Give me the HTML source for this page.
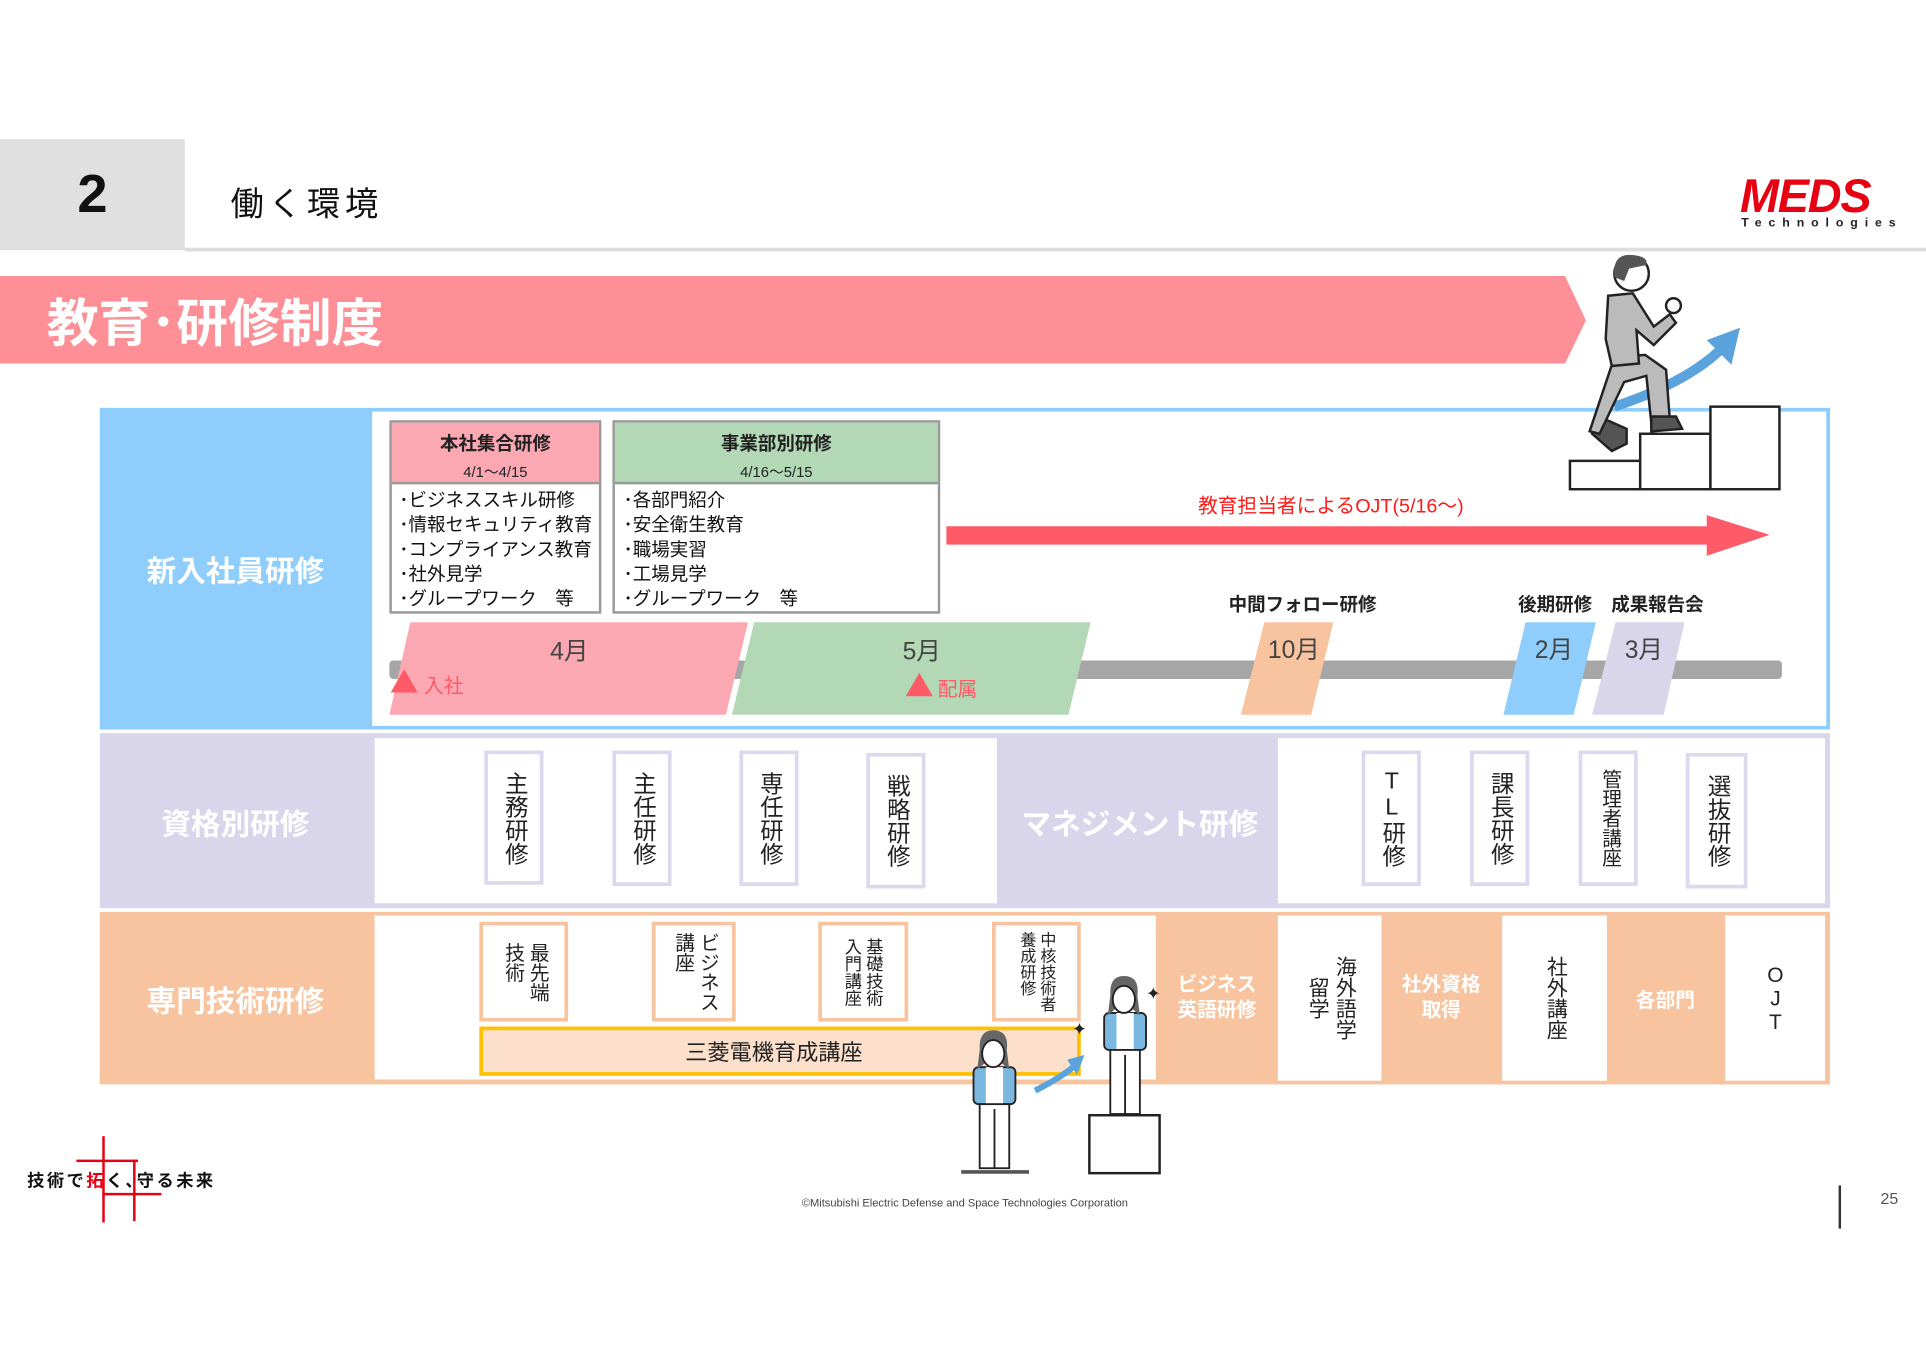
<!DOCTYPE html>
<html><head><meta charset="utf-8"><style>
html,body{margin:0;padding:0;background:#fff;}
body{width:1926px;height:1365px;overflow:hidden;position:relative;}
#s{position:absolute;left:0;top:0;width:1563px;height:1108px;transform:scale(1.2323);transform-origin:0 0;font-family:"Liberation Sans","Noto Sans CJK JP",sans-serif;}
.a{position:absolute;}
.c{position:absolute;display:flex;align-items:center;justify-content:center;text-align:center;}
.v{writing-mode:vertical-rl;text-orientation:upright;}
.card{position:absolute;background:#fff;box-sizing:border-box;display:flex;align-items:center;justify-content:center;color:#222;font-size:19px;line-height:1.15;}
.lav{border:3px solid #dcd9ef;}
.org{border:3px solid #f8c49f;font-size:16px;line-height:1.25;}
.lbl{color:#fff;font-weight:bold;font-size:24px;}
ul{list-style:none;margin:0;padding:0;}
</style></head><body><div id="s">
<!-- header -->
<div class="c" style="left:0;top:113px;width:150px;height:90px;background:#e0e0e0;font-size:44px;font-weight:bold;color:#111;">2</div>
<div class="a" style="left:187px;top:144px;font-size:27px;color:#111;letter-spacing:4px;">働く環境</div>
<div class="a" style="left:150px;top:201px;width:1413px;height:3px;background:#ddd;"></div>
<div class="a" style="left:1412px;top:140px;font-size:38px;font-weight:bold;font-style:italic;color:#e60012;letter-spacing:-1px;line-height:40px;">MEDS</div>
<div class="a" style="left:1413px;top:176px;font-size:10px;color:#222;letter-spacing:5.6px;font-weight:bold;">Technologies</div>
<!-- banner -->
<svg class="a" style="left:0;top:224px" width="1300" height="72"><polygon points="0,0 1270,0 1287,36 1270,71 0,71" fill="#ff8f97"/></svg>
<div class="a" style="left:38px;top:236px;font-size:42px;font-weight:bold;color:#fff;line-height:54px;">教育･研修制度</div>

<!-- row1 -->
<div class="a" style="left:81px;top:331px;width:1404px;height:261px;background:#8ecdfc;"></div>
<div class="a" style="left:302px;top:334px;width:1180px;height:255px;background:#fff;"></div>
<div class="c lbl" style="left:81px;top:331px;width:220px;height:261px;">新入社員研修</div>

<div class="a" style="left:316px;top:341px;width:172px;height:157px;border:2px solid #999;box-sizing:border-box;"></div>
<div class="a" style="left:318px;top:343px;width:168px;height:48px;background:#fba8b2;border-bottom:2px solid #999;"></div>
<div class="a" style="left:316px;top:349px;width:172px;text-align:center;font-size:15px;font-weight:bold;color:#222;">本社集合研修</div>
<div class="a" style="left:316px;top:374px;width:172px;text-align:center;font-size:12px;color:#222;">4/1～4/15</div>
<ul class="a" style="left:324px;top:397px;font-size:15px;line-height:20px;color:#111;"><li>･ビジネススキル研修</li><li>･情報セキュリティ教育</li><li>･コンプライアンス教育</li><li>･社外見学</li><li>･グループワーク　等</li></ul>

<div class="a" style="left:497px;top:341px;width:266px;height:157px;border:2px solid #999;box-sizing:border-box;"></div>
<div class="a" style="left:499px;top:343px;width:262px;height:48px;background:#b2d8b5;border-bottom:2px solid #999;"></div>
<div class="a" style="left:497px;top:349px;width:266px;text-align:center;font-size:15px;font-weight:bold;color:#222;">事業部別研修</div>
<div class="a" style="left:497px;top:374px;width:266px;text-align:center;font-size:12px;color:#222;">4/16～5/15</div>
<ul class="a" style="left:506px;top:397px;font-size:15px;line-height:20px;color:#111;"><li>･各部門紹介</li><li>･安全衛生教育</li><li>･職場実習</li><li>･工場見学</li><li>･グループワーク　等</li></ul>

<div class="a" style="left:940px;top:397px;width:280px;text-align:center;font-size:16px;color:#ff1a1a;">教育担当者によるOJT(5/16～)</div>
<svg class="a" style="left:0;top:0" width="1563" height="1108">
<polygon points="768,427 1385,427 1385,418 1436,434 1385,451 1385,442 768,442" fill="#ff5a67"/>
<rect x="316" y="536" width="1130" height="15" rx="3" fill="#a6a6a6"/>
<polygon points="333,505 607,505 589,580 316,580" fill="#fba8b2"/>
<polygon points="612,505 885,505 867,580 594,580" fill="#b2d8b5"/>
<polygon points="1026,505 1082,505 1064,580 1007,580" fill="#f8c49f"/>
<polygon points="1238,505 1295,505 1277,580 1220,580" fill="#8ecdfc"/>
<polygon points="1311,505 1367,505 1350,580 1292,580" fill="#d9d6ec"/>
<polygon points="317,562 328,543 339,562" fill="#ff5a67"/>
<polygon points="735,565 746,546 757,565" fill="#ff5a67"/>
<!-- stairs -->
<rect x="1274" y="374" width="57" height="23" fill="#fff" stroke="#222" stroke-width="2"/>
<rect x="1331" y="352" width="57" height="45" fill="#fff" stroke="#222" stroke-width="2"/>
<rect x="1388" y="330" width="56" height="67" fill="#fff" stroke="#222" stroke-width="2"/>
<path d="M1310,330 Q1370,310 1398,282" stroke="#5ba3dc" stroke-width="8" fill="none"/>
<polygon points="1385,276 1412,266 1405,296" fill="#5ba3dc"/>
<!-- man -->
<polygon points="1320,348 1302,340 1292,352 1308,366 1320,360" fill="#555" stroke="#222" stroke-width="2"/>
<polygon points="1310,290 1335,288 1352,300 1355,340 1340,343 1336,305 1318,310 1298,352 1290,350" fill="#bbb" stroke="#222" stroke-width="2"/>
<polygon points="1340,338 1360,338 1365,348 1340,350" fill="#555" stroke="#222" stroke-width="2"/>
<polygon points="1305,240 1325,238 1342,265 1355,255 1360,262 1342,280 1328,268 1330,295 1308,297 1303,275" fill="#bbb" stroke="#222" stroke-width="2"/>
<circle cx="1358" cy="248" r="6" fill="#fff" stroke="#222" stroke-width="2"/>
<circle cx="1324" cy="222" r="14" fill="#fff" stroke="#222" stroke-width="2"/>
<path d="M1310,225 Q1308,205 1325,207 Q1338,208 1336,215 L1322,218 L1318,228 Z" fill="#555"/>
</svg>
<div class="a" style="left:412px;top:512px;width:100px;text-align:center;font-size:20px;color:#444;">4月</div>
<div class="a" style="left:698px;top:512px;width:100px;text-align:center;font-size:20px;color:#444;">5月</div>
<div class="a" style="left:1000px;top:511px;width:100px;text-align:center;font-size:20px;color:#444;">10月</div>
<div class="a" style="left:1211px;top:511px;width:100px;text-align:center;font-size:20px;color:#444;">2月</div>
<div class="a" style="left:1284px;top:511px;width:100px;text-align:center;font-size:20px;color:#444;">3月</div>
<div class="a" style="left:344px;top:543px;font-size:16px;color:#ff5a67;">入社</div>
<div class="a" style="left:761px;top:546px;font-size:16px;color:#ff5a67;">配属</div>
<div class="a" style="left:977px;top:480px;width:160px;text-align:center;font-size:15px;font-weight:bold;color:#222;">中間フォロー研修</div>
<div class="a" style="left:1222px;top:480px;width:80px;text-align:center;font-size:15px;font-weight:bold;color:#222;">後期研修</div>
<div class="a" style="left:1300px;top:480px;width:90px;text-align:center;font-size:15px;font-weight:bold;color:#222;">成果報告会</div>

<!-- row2 -->
<div class="a" style="left:81px;top:595px;width:1404px;height:142px;background:#d9d6ec;"></div>
<div class="a" style="left:304px;top:599px;width:505px;height:134px;background:#fff;"></div>
<div class="a" style="left:1037px;top:599px;width:444px;height:134px;background:#fff;"></div>
<div class="c lbl" style="left:81px;top:595px;width:220px;height:142px;">資格別研修</div>
<div class="c lbl" style="left:815px;top:595px;width:220px;height:142px;">マネジメント研修</div>
<div class="card lav" style="left:393px;top:609px;width:48px;height:109px;"><span class="v">主務研修</span></div>
<div class="card lav" style="left:497px;top:609px;width:48px;height:110px;"><span class="v">主任研修</span></div>
<div class="card lav" style="left:600px;top:609px;width:48px;height:110px;"><span class="v">専任研修</span></div>
<div class="card lav" style="left:703px;top:611px;width:48px;height:110px;"><span class="v">戦略研修</span></div>
<div class="card lav" style="left:1105px;top:609px;width:48px;height:110px;"><span class="v">TL研修</span></div>
<div class="card lav" style="left:1193px;top:609px;width:48px;height:110px;"><span class="v">課長研修</span></div>
<div class="card lav" style="left:1281px;top:609px;width:48px;height:110px;font-size:16px;"><span class="v">管理者講座</span></div>
<div class="card lav" style="left:1368px;top:611px;width:50px;height:110px;"><span class="v">選抜研修</span></div>

<!-- row3 -->
<div class="a" style="left:81px;top:740px;width:1404px;height:140px;background:#f8c49f;"></div>
<div class="a" style="left:304px;top:743px;width:634px;height:133px;background:#fff;"></div>
<div class="c lbl" style="left:81px;top:740px;width:220px;height:140px;">専門技術研修</div>
<div class="card org" style="left:389px;top:748px;width:72px;height:81px;"><span class="v">最先端<br>技術</span></div>
<div class="card org" style="left:529px;top:748px;width:68px;height:81px;"><span class="v">ビジネス<br>講座</span></div>
<div class="card org" style="left:664px;top:748px;width:73px;height:81px;font-size:14px;"><span class="v">基礎技術<br>入門講座</span></div>
<div class="card org" style="left:805px;top:748px;width:72px;height:81px;font-size:13px;"><span class="v">中核技術者<br>養成研修</span></div>
<div class="c" style="left:389px;top:833px;width:488px;height:40px;box-sizing:border-box;border:3px solid #ffc000;background:#fde0cc;font-size:18px;color:#222;"><span style="margin-left:-10px">三菱電機育成講座</span></div>
<div class="c" style="left:940px;top:740px;width:95px;height:140px;color:#fff;font-size:16px;font-weight:bold;line-height:21px;">ビジネス<br>英語研修</div>
<div class="card" style="left:1037px;top:743px;width:84px;height:134px;font-size:17px;"><span class="v" style="line-height:22px;">海外語学<br>　留学</span></div>
<div class="c" style="left:1122px;top:740px;width:95px;height:140px;color:#fff;font-size:16px;font-weight:bold;line-height:21px;">社外資格<br>取得</div>
<div class="card" style="left:1219px;top:743px;width:85px;height:134px;font-size:17px;"><span class="v">社外講座</span></div>
<div class="c" style="left:1305px;top:740px;width:93px;height:140px;color:#fff;font-size:16px;font-weight:bold;">各部門</div>
<div class="card" style="left:1400px;top:743px;width:81px;height:134px;font-size:17px;"><span class="v">OJT</span></div>

<!-- women (on top) -->
<svg class="a" style="left:0;top:0" width="1563" height="1108">
<rect x="884" y="905" width="57" height="47" fill="#fff" stroke="#222" stroke-width="2"/>
<path d="M840,885 Q860,875 872,865" stroke="#5ba3dc" stroke-width="5" fill="none"/>
<polygon points="866,860 880,856 874,872" fill="#5ba3dc"/>
<rect x="790" y="866" width="34" height="30" rx="4" fill="#7ab8e0" stroke="#222" stroke-width="1.5"/>
<rect x="800" y="866" width="14" height="30" fill="#fff"/>
<rect x="795" y="896" width="24" height="52" fill="#fff" stroke="#222" stroke-width="1.5"/>
<line x1="807" y1="900" x2="807" y2="948" stroke="#222" stroke-width="1.5"/>
<path d="M795,852 Q794,836 806,836 Q819,836 817,852 L819,868 L812,862 L800,862 L793,868 Z" fill="#666"/>
<ellipse cx="806" cy="855" rx="9" ry="11" fill="#fff" stroke="#222" stroke-width="1.5"/>
<line x1="780" y1="951" x2="835" y2="951" stroke="#555" stroke-width="3"/>
<rect x="896" y="822" width="34" height="30" rx="4" fill="#7ab8e0" stroke="#222" stroke-width="1.5"/>
<rect x="906" y="822" width="14" height="30" fill="#fff"/>
<rect x="901" y="852" width="24" height="52" fill="#fff" stroke="#222" stroke-width="1.5"/>
<line x1="913" y1="856" x2="913" y2="904" stroke="#222" stroke-width="1.5"/>
<path d="M901,808 Q900,792 912,792 Q925,792 923,808 L925,824 L918,818 L906,818 L899,824 Z" fill="#666"/>
<ellipse cx="912" cy="811" rx="9" ry="11" fill="#fff" stroke="#222" stroke-width="1.5"/>
<text x="870" y="840" font-size="14" fill="#222">✦</text>
<text x="930" y="811" font-size="14" fill="#222">✦</text>
</svg>

<!-- footer -->
<div class="a" style="left:22px;top:948px;font-size:14px;font-weight:bold;color:#111;letter-spacing:2px;">技術で<span style="color:#e60012">拓</span>く､守る未来</div>
<div class="a" style="left:83px;top:922px;width:2px;height:70px;background:#e60012;"></div>
<div class="a" style="left:62px;top:941px;width:50px;height:2px;background:#e60012;"></div>
<div class="a" style="left:83px;top:968px;width:48px;height:2px;background:#e60012;"></div>
<div class="a" style="left:108px;top:941px;width:2px;height:50px;background:#e60012;"></div>
<div class="a" style="left:600px;top:971px;width:366px;text-align:center;font-size:9px;color:#444;">©Mitsubishi Electric Defense and Space Technologies Corporation</div>
<div class="a" style="left:1492px;top:962px;width:2px;height:35px;background:#333;"></div>
<div class="a" style="left:1526px;top:965px;font-size:13px;color:#555;">25</div>
</div></body></html>
